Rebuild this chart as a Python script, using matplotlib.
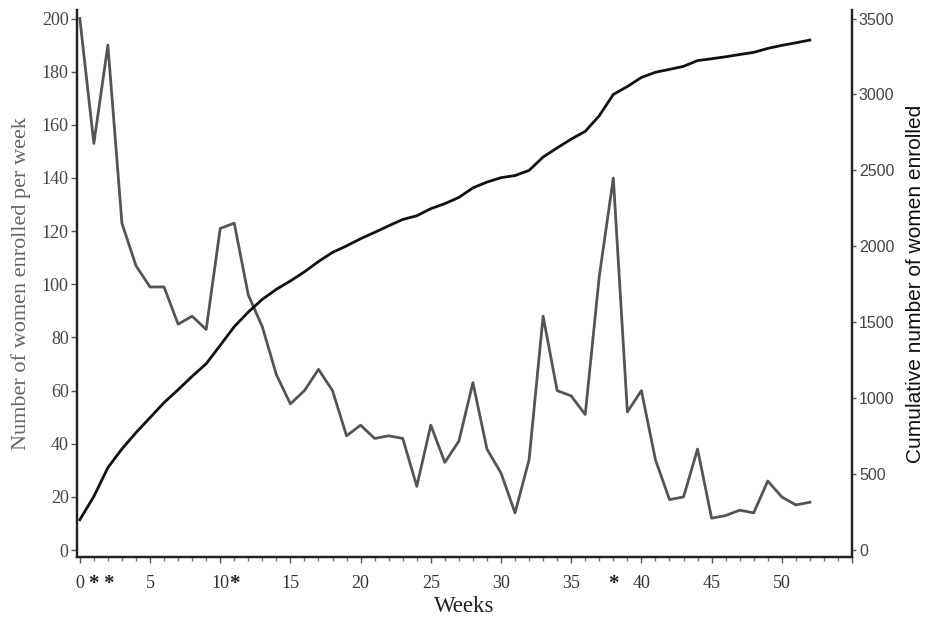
import matplotlib
matplotlib.use("Agg")
import matplotlib.pyplot as plt

weeks = list(range(53))
weekly = [200, 153, 190, 123, 107, 99, 99, 85, 88, 83,
          121, 123, 96, 84, 66, 55, 60, 68, 60, 43,
          47, 42, 43, 42, 24, 47, 33, 41, 63, 38,
          29, 14, 34, 88, 60, 58, 51, 103, 140, 52,
          60, 34, 19, 20, 38, 12, 13, 15, 14, 26,
          20, 17, 18]
cumulative = [200, 353, 543, 666, 773, 872, 971, 1056, 1144, 1227,
              1348, 1471, 1567, 1651, 1717, 1772, 1832, 1900, 1960, 2003,
              2050, 2092, 2135, 2177, 2201, 2248, 2281, 2322, 2385, 2423,
              2452, 2466, 2500, 2588, 2648, 2706, 2757, 2860, 3000, 3052,
              3112, 3146, 3165, 3185, 3223, 3235, 3248, 3263, 3277, 3303,
              3323, 3340, 3358]
major_ticks = [0, 5, 10, 15, 20, 25, 30, 35, 40, 45, 50, 55]
major_labels = ["0", "5", "10", "15", "20", "25", "30", "35", "40", "45", "50", ""]
star_weeks = [1, 2, 11, 38]
left_ticks = list(range(0, 201, 20))
right_ticks = list(range(0, 3501, 500))

serif = "Liberation Serif"
sans = "Liberation Sans"

fig = plt.figure(figsize=(9.34, 6.17), dpi=100)
ax = fig.add_axes([77/934, 1-557/617, (852-77)/934, (557-10)/617])
ax2 = ax.twinx()

ax.plot(weeks, weekly, color="#555555", lw=2.0, zorder=2)
ax2.plot(weeks, cumulative, color="#111111", lw=2.0, zorder=3)

ax.set_xlim(-0.2, 55)
ax.set_ylim(-2.6, 203.2)
ax2.set_ylim(-2.6*17.5, 203.2*17.5)

for a in (ax, ax2):
    a.spines["top"].set_visible(False)
    for s in a.spines.values():
        s.set_linewidth(1.6)
        s.set_color("#222222")

ax.set_xticks(major_ticks)
ax.set_xticklabels(major_labels, fontfamily=serif, fontsize=13, color="#333333")
ax.set_xticks(list(range(56)), minor=True)
ax.set_xticklabels(["*" if i in star_weeks else "" for i in range(56)], minor=True,
                   fontfamily=serif, fontsize=15, color="#222222", fontweight="bold")
ax.tick_params(axis="x", which="major", length=4, width=1, pad=9, colors="#555555", labelcolor="#333333")
ax.tick_params(axis="x", which="minor", length=3, width=1, pad=9, colors="#777777", labelcolor="#222222")

ax.set_yticks(left_ticks)
ax.set_yticklabels([str(v) for v in left_ticks], fontfamily=serif, fontsize=13, color="#444444")
ax.tick_params(axis="y", length=4, width=1, pad=2, colors="#555555", labelcolor="#444444")

ax2.set_yticks(right_ticks)
ax2.set_yticklabels([str(v) for v in right_ticks], fontfamily=sans, fontsize=11.5, color="#444444")
ax2.tick_params(axis="y", length=3, width=1, pad=2, colors="#555555", labelcolor="#444444")

ax.set_xlabel("Weeks", fontfamily=serif, fontsize=16.5, color="#222222", labelpad=2)
ax.set_ylabel("Number of women enrolled per week", fontfamily=serif, fontsize=16,
              color="#666666", labelpad=8)
ax2.set_ylabel("Cumulative number of women enrolled", fontfamily=sans, fontsize=15,
               color="#111111", labelpad=8)

fig.savefig("out.png", dpi=100)
